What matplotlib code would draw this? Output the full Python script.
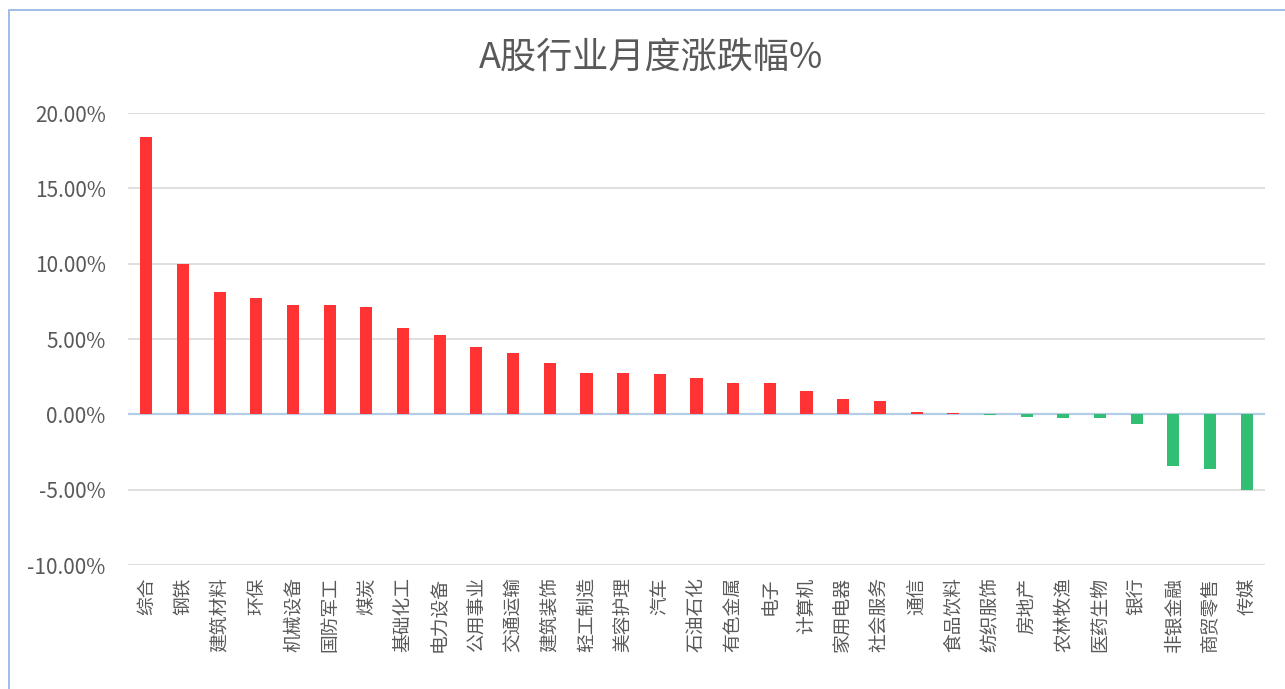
import matplotlib.pyplot as plt
from matplotlib.patches import Rectangle
from matplotlib.ticker import PercentFormatter

plt.rcParams['font.family'] = ['Noto Sans CJK SC', 'DejaVu Sans']
plt.rcParams['axes.unicode_minus'] = False

# 行业名称
industries = ['综合', '钢铁', '建筑材料', '环保', '机械设备', '国防军工', '煤炭', '基础化工',
              '电力设备', '公用事业', '交通运输', '建筑装饰', '轻工制造', '美容护理', '汽车',
              '石油石化', '有色金属', '电子', '计算机', '家用电器', '社会服务', '通信',
              '食品饮料', '纺织服饰', '房地产', '农林牧渔', '医药生物', '银行', '非银金融',
              '商贸零售', '传媒']
# 月度涨跌幅 (%)
changes = [18.4, 10.0, 8.1, 7.7, 7.24, 7.24, 7.1, 5.7,
           5.25, 4.5, 4.1, 3.4, 2.72, 2.72, 2.66,
           2.4, 2.1, 2.06, 1.53, 1.0, 0.86, 0.17,
           0.07, -0.05, -0.15, -0.23, -0.23, -0.63, -3.43,
           -3.63, -5.03]

red = '#FF3333'
green = '#33BF73'
grey = '#595959'

fig = plt.figure(figsize=(12.85, 6.89), dpi=100)
ax = fig.add_axes([128 / 1285, 1 - 565 / 689, (1265 - 128) / 1285, (565 - 113) / 689])

x = range(len(industries))
colors = [red if v >= 0 else green for v in changes]
ax.bar(x, changes, width=0.33, color=colors, zorder=3)

ax.set_ylim(-10, 20)
ax.set_xlim(-0.5, len(industries) - 0.5)
ax.set_yticks([-10, -5, 0, 5, 10, 15, 20])
ax.yaxis.set_major_formatter(PercentFormatter(decimals=2))
ax.grid(axis='y', color='#D9D9D9', linewidth=1.2, zorder=0)
ax.axhline(0, color='#B4CDE6', linewidth=1.6, zorder=2)

ax.set_xticks(list(x))
ax.set_xticklabels(industries, rotation=90, fontsize=13.5, color=grey)
ax.tick_params(axis='y', labelsize=15, labelcolor=grey, length=0, pad=16)
ax.tick_params(axis='x', length=0, pad=9)
for s in ax.spines.values():
    s.set_visible(False)

fig.text(651 / 1285, 1 - 58 / 689, 'A股行业月度涨跌幅%', ha='center', va='center',
         fontsize=26, color=grey)

# 图表外框
fig.patches.append(Rectangle((9 / 1285, -0.1), 1.2, 1 - 10 / 689 + 0.1,
                             transform=fig.transFigure, fill=False,
                             edgecolor='#8DB3E2', linewidth=1.2))

fig.savefig('out.png', dpi=100)
